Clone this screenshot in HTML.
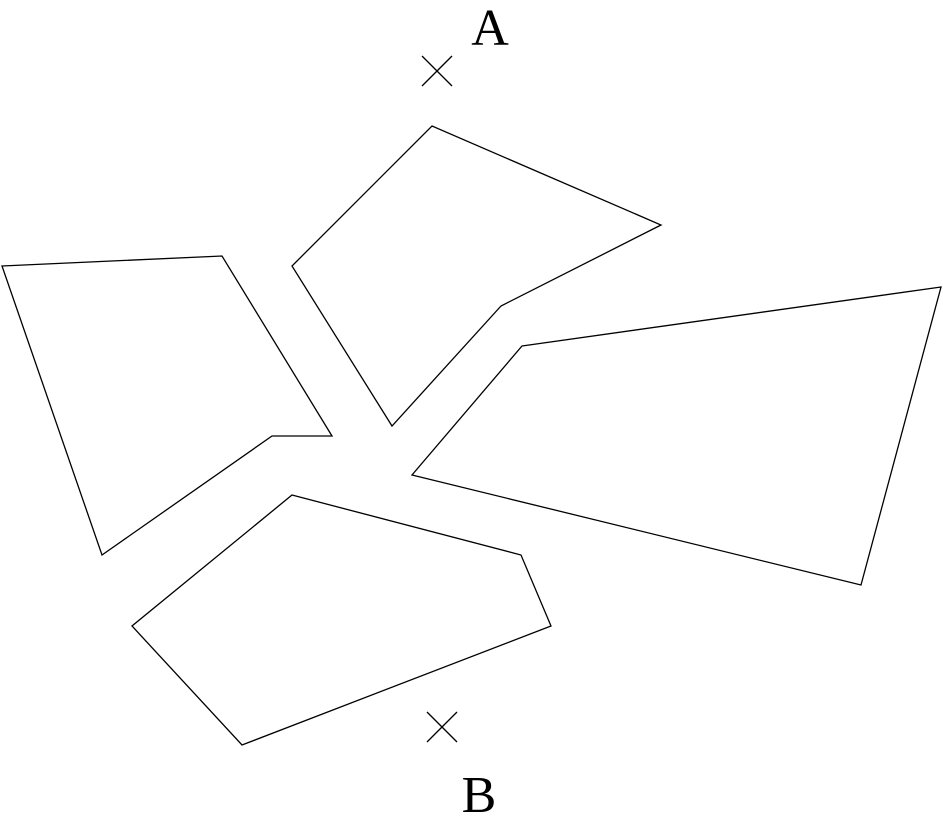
<!DOCTYPE html>
<html><head><style>html,body{margin:0;padding:0;background:#fff;}svg{display:block}</style></head>
<body>
<svg width="943" height="816" viewBox="0 0 943 816" xmlns="http://www.w3.org/2000/svg">
<g fill="none" stroke="#000" stroke-width="1.3">
<polygon points="2,266 222,256 332,436 272,436 102,555"/>
<polygon points="432,126 661,225 501,306 392,426 292,266"/>
<polygon points="522,346 941,287 861,585 412,475"/>
<polygon points="292,495 521,555 551,626 242,745 132,626"/>
<line x1="422" y1="56" x2="452" y2="86"/><line x1="452" y1="56" x2="422" y2="86"/>
<line x1="427" y1="712" x2="457" y2="742"/><line x1="457" y1="712" x2="427" y2="742"/>
</g>
<text x="490" y="45" font-family="Liberation Serif, serif" font-size="52" text-anchor="middle">A</text>
<text x="479" y="812" font-family="Liberation Serif, serif" font-size="52" text-anchor="middle">B</text>
</svg>
</body></html>
